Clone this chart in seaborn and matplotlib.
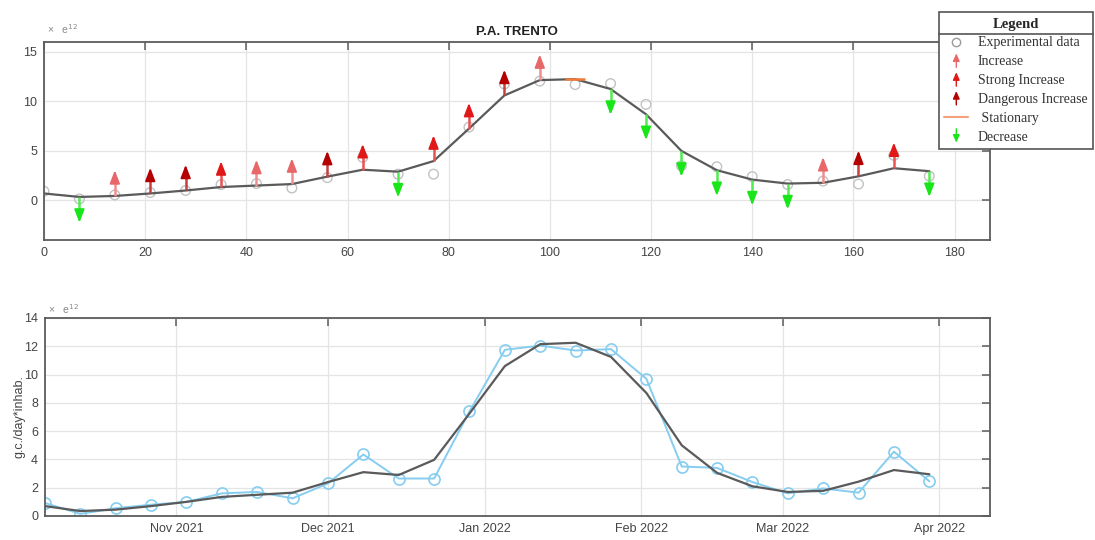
import numpy as np
import pandas as pd
import matplotlib
matplotlib.use("Agg")
import matplotlib.pyplot as plt
import matplotlib.dates as mdates
import seaborn as sns
from matplotlib.lines import Line2D
from matplotlib.patches import FancyArrowPatch
from matplotlib.legend_handler import HandlerBase
from matplotlib.transforms import IdentityTransform
from matplotlib.colors import to_rgb

# ---------------- data ----------------
days = [0, 7, 14, 21, 28, 35, 42, 49, 56, 63, 70, 77, 84, 91, 98, 105,
        112, 119, 126, 133, 140, 147, 154, 161, 168, 175]
experimental = [0.92, 0.15, 0.55, 0.8, 1.0, 1.6, 1.7, 1.25, 2.3, 4.35, 2.65, 2.65,
                7.4, 11.75, 12.05, 11.7, 11.8, 9.7, 3.5, 3.4, 2.4, 1.6, 1.95,
                1.65, 4.55, 2.45]
trend = [0.7, 0.35, 0.45, 0.7, 1.0, 1.35, 1.5, 1.65, 2.4, 3.1, 2.9, 3.97,
         7.25, 10.6, 12.15, 12.25, 11.25, 8.7, 5.0, 3.05, 2.1, 1.7, 1.78,
         2.43, 3.25, 2.95]
signal = ["none", "decrease", "increase", "dangerous", "dangerous", "strong",
          "increase", "increase", "dangerous", "strong", "decrease", "strong",
          "strong", "dangerous", "increase", "stationary", "decrease",
          "decrease", "decrease", "decrease", "decrease", "decrease",
          "increase", "dangerous", "strong", "decrease"]
start_date = "2021-10-06"
title = "P.A. TRENTO"
ylabel_bottom = "g.c./day*inhab."
legend_labels = ["Experimental data", "Increase", "Strong Increase",
                 "Dangerous Increase", " Stationary", "Decrease"]

# ---------------- style ----------------
sns.set_theme(style="white")
plt.rcParams["font.family"] = ["Liberation Sans", "DejaVu Sans"]

signal_colors = {"increase": "#e8686a", "strong": "#e01818",
                 "dangerous": "#b40000", "decrease": "#18e618",
                 "stationary": "#f07a3a"}


def lighten(c, f=0.25):
    r, g, b = to_rgb(c)
    return (r + (1 - r) * f, g + (1 - g) * f, b + (1 - b) * f)


ARROW_LEN = 2.6
HEAD_LEN = 0.9
trend_color = "#5a5a5a"
spine_color = "#5c5c5c"
grid_color = "#e4e4e4"

fig = plt.figure(figsize=(10.95, 5.40), dpi=100)
ax1 = fig.add_axes([44 / 1095, 1 - 240 / 540, (990 - 44) / 1095, 198 / 540])
ax2 = fig.add_axes([45 / 1095, 1 - 516 / 540, (990 - 45) / 1095, 198 / 540])


def style_axes(ax):
    for s in ax.spines.values():
        s.set_color(spine_color)
        s.set_linewidth(1.3)
    ax.grid(True, color=grid_color, lw=0.9)
    ax.set_axisbelow(True)
    ax.tick_params(direction="in", length=6, width=1.1, top=True, right=True,
                   color=spine_color, labelcolor="#444444", labelsize=9, pad=5)


# ---------------- top panel ----------------
style_axes(ax1)
sns.scatterplot(x=days, y=experimental, ax=ax1, s=48, marker="o",
                facecolor="none", edgecolor="#c2c2c2", linewidth=1.0, zorder=2)
sns.lineplot(x=days, y=trend, ax=ax1, color=trend_color, lw=1.6, zorder=3)

for d, t, sig in zip(days, trend, signal):
    if sig == "none":
        continue
    c = signal_colors[sig]
    if sig == "stationary":
        ax1.hlines(t, d - 2, d + 2, color=c, lw=1.8, zorder=4)
        continue
    direction = -1 if sig == "decrease" else 1
    tip = t + direction * ARROW_LEN
    ax1.vlines(d, t, tip - direction * HEAD_LEN * 0.6, color=lighten(c),
               lw=1.8, zorder=4)
    ax1.annotate("", xy=(d, tip), xytext=(d, tip - direction * HEAD_LEN),
                 arrowprops=dict(arrowstyle="-|>,head_length=0.65,head_width=0.25",
                                 color=c, lw=1.4, shrinkA=0, shrinkB=0),
                 zorder=5)

ax1.set_xlim(0, 187)
ax1.set_ylim(-4, 16)
ax1.set_xticks([0, 20, 40, 60, 80, 100, 120, 140, 160, 180])
ax1.set_yticks([0, 5, 10, 15])
ax1.set_xlabel("")
ax1.set_ylabel("")
ax1.set_title(title, fontsize=9.5, fontweight="bold", color="#222222", pad=5)
ax1.text(0.003, 1.03, "×   e$^{12}$", transform=ax1.transAxes, fontsize=7.5,
         color="#8a8a8a", ha="left", va="bottom")

# ---------------- bottom panel ----------------
style_axes(ax2)
dates = pd.Timestamp(start_date) + pd.to_timedelta(days, unit="D")
sns.lineplot(x=dates, y=experimental, ax=ax2, color="#86cdf0", lw=1.4,
             marker="o", markersize=8, markerfacecolor="none",
             markeredgecolor="#86cdf0", markeredgewidth=1.2, zorder=2)
sns.lineplot(x=dates, y=trend, ax=ax2, color=trend_color, lw=1.6, zorder=3)
ax2.set_xlim(pd.Timestamp(start_date), pd.Timestamp(start_date) + pd.Timedelta(days=187))
ax2.set_ylim(0, 14)
ax2.set_yticks([0, 2, 4, 6, 8, 10, 12, 14])
ax2.xaxis.set_major_locator(mdates.MonthLocator())
ax2.xaxis.set_major_formatter(mdates.DateFormatter("%b %Y"))
ax2.set_xlabel("")
ax2.set_ylabel(ylabel_bottom, fontsize=9, color="#444444", labelpad=-1)
ax2.text(0.003, 1.01, "×   e$^{12}$", transform=ax2.transAxes, fontsize=7.5,
         color="#8a8a8a", ha="left", va="bottom")


# ---------------- legend ----------------
class ArrowHandler(HandlerBase):
    def __init__(self, color, up=True):
        super().__init__()
        self.color = color
        self.up = up

    def create_artists(self, legend, orig_handle, xdescent, ydescent,
                       width, height, fontsize, trans):
        x = width / 2 - xdescent
        lo, hi = -ydescent - 1.5, height - ydescent + 1.5
        a, b = ((x, lo), (x, hi)) if self.up else ((x, hi), (x, lo))
        arr = FancyArrowPatch(a, b, arrowstyle="-|>,head_length=0.45,head_width=0.2",
                              mutation_scale=fontsize, color=self.color, lw=1.0,
                              shrinkA=0, shrinkB=0, transform=trans)
        return [arr]


h_exp = Line2D([], [], ls="", marker="o", mfc="none", mec="#9a9a9a", ms=6, mew=1)
h_inc = Line2D([], [])
h_str = Line2D([], [])
h_dan = Line2D([], [])
h_sta = Line2D([], [], color="#f4a07a", lw=1.5)
h_dec = Line2D([], [])
handler_map = {h_inc: ArrowHandler(signal_colors["increase"]),
               h_str: ArrowHandler(signal_colors["strong"]),
               h_dan: ArrowHandler(signal_colors["dangerous"]),
               h_dec: ArrowHandler(signal_colors["decrease"], up=False)}

leg = fig.legend([h_exp, h_inc, h_str, h_dan, h_sta, h_dec], legend_labels,
                 handler_map=handler_map, loc="upper right",
                 bbox_to_anchor=(1093 / 1095, 1 - 12 / 540),
                 bbox_transform=fig.transFigure,
                 title="Legend", fancybox=False, framealpha=1,
                 edgecolor="#555555", borderpad=0.4, labelspacing=0.42,
                 handlelength=1.7, handletextpad=0.7, borderaxespad=0,
                 prop={"family": "Liberation Serif", "size": 10})
leg.get_title().set_fontfamily("Liberation Serif")
leg.get_title().set_fontweight("bold")
leg.get_title().set_fontsize(10.5)
leg.get_frame().set_linewidth(1.2)
for t in leg.get_texts():
    t.set_color("#333333")

fig.canvas.draw()
renderer = fig.canvas.get_renderer()
tb = leg.get_title().get_window_extent(renderer)
fb = leg.get_frame().get_window_extent(renderer)
ysep = tb.y0 - 3
fig.add_artist(Line2D([fb.x0, fb.x1], [ysep, ysep], transform=IdentityTransform(),
                      color="#555555", lw=1.2, zorder=20))

fig.savefig("out.png", dpi=100)
